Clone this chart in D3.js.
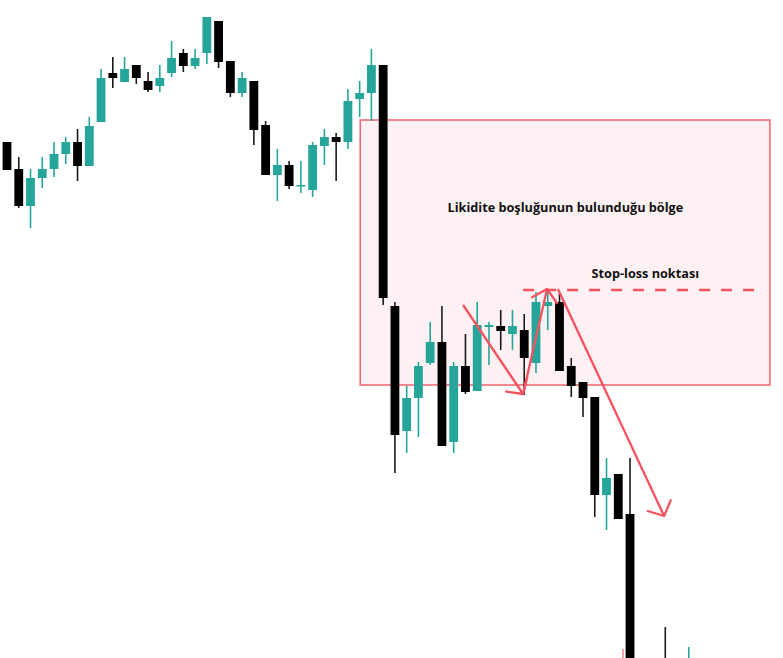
<!DOCTYPE html>
<html>
<head>
<meta charset="utf-8">
<script src="https://cdn.jsdelivr.net/npm/d3@7"></script>
<style>
  html, body { margin: 0; padding: 0; background: #fff; overflow: hidden; }
  svg { display: block; }
</style>
</head>
<body>
<div id="chart"></div>
<script>
// candle index on the time axis (no labels shown on the chart)
const candleIndex = d3.range(59);

// prices, null = candle outside the visible window
const openPrices = [
  1.08716, 1.08662, 1.08588, 1.08644, 1.08662, 1.08692, 1.08716, 1.08668, 1.08756, 1.08854,
  1.08836, 1.08870, 1.08838, 1.08828, 1.08854, 1.08894, 1.08868, 1.08894, 1.08958, 1.08878,
  1.08814, 1.08838, 1.08750, 1.08650, 1.08670, 1.08628, 1.08620, 1.08708, 1.08726, 1.08716,
  1.08802, 1.08814, 1.08870, 1.08388, 1.08138, 1.08204, 1.08274, 1.08316, 1.08116, 1.08268,
  1.08218, 1.08346, 1.08348, 1.08332, 1.08340, 1.08274, 1.08388, 1.08396, 1.08268, 1.08236,
  1.08206, 1.08010, 1.08052, 1.07972, null, null, 1.07660, null, 1.07600
];
const highPrices = [
  1.08716, 1.08686, 1.08662, 1.08686, 1.08716, 1.08726, 1.08742, 1.08766, 1.08862, 1.08886,
  1.08886, 1.08870, 1.08856, 1.08870, 1.08918, 1.08902, 1.08902, 1.08966, 1.08958, 1.08878,
  1.08856, 1.08838, 1.08758, 1.08702, 1.08678, 1.08678, 1.08716, 1.08742, 1.08734, 1.08822,
  1.08838, 1.08902, 1.08870, 1.08396, 1.08228, 1.08276, 1.08356, 1.08388, 1.08276, 1.08332,
  1.08396, 1.08356, 1.08380, 1.08380, 1.08372, 1.08416, 1.08418, 1.08414, 1.08284, 1.08236,
  1.08206, 1.08084, 1.08052, 1.08084, null, null, 1.07746, null, 1.07706
];
const lowPrices = [
  1.08660, 1.08584, 1.08544, 1.08624, 1.08646, 1.08672, 1.08638, 1.08668, 1.08756, 1.08824,
  1.08836, 1.08832, 1.08816, 1.08816, 1.08846, 1.08856, 1.08862, 1.08872, 1.08864, 1.08806,
  1.08806, 1.08710, 1.08650, 1.08598, 1.08622, 1.08614, 1.08606, 1.08670, 1.08638, 1.08702,
  1.08766, 1.08758, 1.08390, 1.08054, 1.08094, 1.08126, 1.08270, 1.08108, 1.08094, 1.08212,
  1.08218, 1.08270, 1.08300, 1.08300, 1.08210, 1.08254, 1.08340, 1.08258, 1.08206, 1.08166,
  1.07966, 1.07940, 1.07962, 1.07576, null, null, 1.07580, null, 1.07580
];
const closePrices = [
  1.08660, 1.08588, 1.08644, 1.08662, 1.08692, 1.08716, 1.08668, 1.08748, 1.08844, 1.08844,
  1.08862, 1.08844, 1.08820, 1.08844, 1.08884, 1.08868, 1.08884, 1.08966, 1.08876, 1.08814,
  1.08844, 1.08740, 1.08650, 1.08670, 1.08628, 1.08630, 1.08710, 1.08726, 1.08716, 1.08798,
  1.08814, 1.08870, 1.08404, 1.08130, 1.08204, 1.08268, 1.08316, 1.08108, 1.08268, 1.08216,
  1.08350, 1.08350, 1.08338, 1.08348, 1.08284, 1.08396, 1.08396, 1.08258, 1.08228, 1.08204,
  1.08010, 1.08044, 1.07962, 1.07600, null, null, 1.07600, null, 1.07660
];

// annotations, anchored in candle index / price
const zone = { from: 30.05, to: 64.9, top: 1.08760, bottom: 1.08230 };
const zoneLabel = { text: 'Likidite boşluğunun bulunduğu bölge', at: 47.5, price: 1.08576 };
const stopLoss = { from: 43.9, to: 63.7, price: 1.08420 };
const stopLabel = { text: 'Stop-loss noktası', at: 54.3, price: 1.08444 };
const arrows = [
  { from: [38.8, 1.08390], to: [43.9, 1.08212] },
  { from: [43.9, 1.08212], to: [45.94, 1.08422] },
  { from: [46.87, 1.08422], to: [55.9, 1.07968] }
];

const width = 783,
      height = 658,
      upColor = '#26a69a',
      downColor = '#000000',
      markColor = '#f7525f';

const candles = candleIndex.map((d, i) => ({
  i: d,
  open: openPrices[i],
  high: highPrices[i],
  low: lowPrices[i],
  close: closePrices[i]
})).filter(d => d.open !== null);

const svg = d3.select('#chart')
  .append('svg')
  .attr('width', width)
  .attr('height', height);

const x = d3.scaleLinear()
  .domain([0, 58])
  .range([7, 688.8]);

const y = d3.scaleLinear()
  .domain([1.07684, 1.09])
  .range([height, 0]);

const step = x(1) - x(0),
      bodyWidth = step * 0.75;

// liquidity zone behind the candles
svg.append('rect')
  .attr('x', x(zone.from))
  .attr('y', y(zone.top))
  .attr('width', x(zone.to) - x(zone.from))
  .attr('height', y(zone.bottom) - y(zone.top))
  .attr('fill', '#fdf1f3')
  .attr('stroke', '#f26a75')
  .attr('stroke-width', 1.6);

const candleG = svg.append('g')
  .selectAll('g')
  .data(candles)
  .enter()
  .append('g');

candleG.append('line')
  .attr('x1', d => x(d.i))
  .attr('x2', d => x(d.i))
  .attr('y1', d => y(d.high))
  .attr('y2', d => y(d.low))
  .attr('stroke', d => d.close >= d.open ? upColor : '#1a1a1a')
  .attr('stroke-width', 1.6);

candleG.append('rect')
  .attr('x', d => x(d.i) - bodyWidth / 2)
  .attr('y', d => y(Math.max(d.open, d.close)))
  .attr('width', bodyWidth)
  .attr('height', d => Math.max(1.5, Math.abs(y(d.open) - y(d.close))))
  .attr('fill', d => d.close >= d.open ? upColor : downColor);

// stop-loss level
svg.append('line')
  .attr('x1', x(stopLoss.from))
  .attr('x2', x(stopLoss.to))
  .attr('y1', y(stopLoss.price))
  .attr('y2', y(stopLoss.price))
  .attr('stroke', markColor)
  .attr('stroke-width', 2.6)
  .attr('stroke-dasharray', '11 11');

// arrows with open heads
function arrowPath(a) {
  let x0 = x(a.from[0]), y0 = y(a.from[1]),
      x1 = x(a.to[0]), y1 = y(a.to[1]);
  let back = Math.atan2(y0 - y1, x0 - x1),
      spread = 48 * Math.PI / 180,
      len = 18;
  let p = d3.path();
  p.moveTo(x0, y0);
  p.lineTo(x1, y1);
  p.moveTo(x1 + len * Math.cos(back + spread), y1 + len * Math.sin(back + spread));
  p.lineTo(x1, y1);
  p.lineTo(x1 + len * Math.cos(back - spread), y1 + len * Math.sin(back - spread));
  return p.toString();
}

svg.append('g')
  .selectAll('path')
  .data(arrows)
  .enter()
  .append('path')
  .attr('d', arrowPath)
  .attr('fill', 'none')
  .attr('stroke', markColor)
  .attr('stroke-width', 2.3)
  .attr('stroke-linejoin', 'round');

// small mark at the bottom edge
svg.append('line')
  .attr('x1', x(52.4))
  .attr('x2', x(52.4))
  .attr('y1', y(1.07702))
  .attr('y2', height)
  .attr('stroke', '#f5a3aa')
  .attr('stroke-width', 2);

svg.append('g')
  .selectAll('text')
  .data([zoneLabel, stopLabel])
  .enter()
  .append('text')
  .attr('x', d => x(d.at))
  .attr('y', d => y(d.price))
  .attr('text-anchor', 'middle')
  .style('font-family', '"Open Sans", sans-serif')
  .style('font-weight', 700)
  .style('font-size', '12.7px')
  .style('fill', '#111')
  .text(d => d.text);
</script>
</body>
</html>
